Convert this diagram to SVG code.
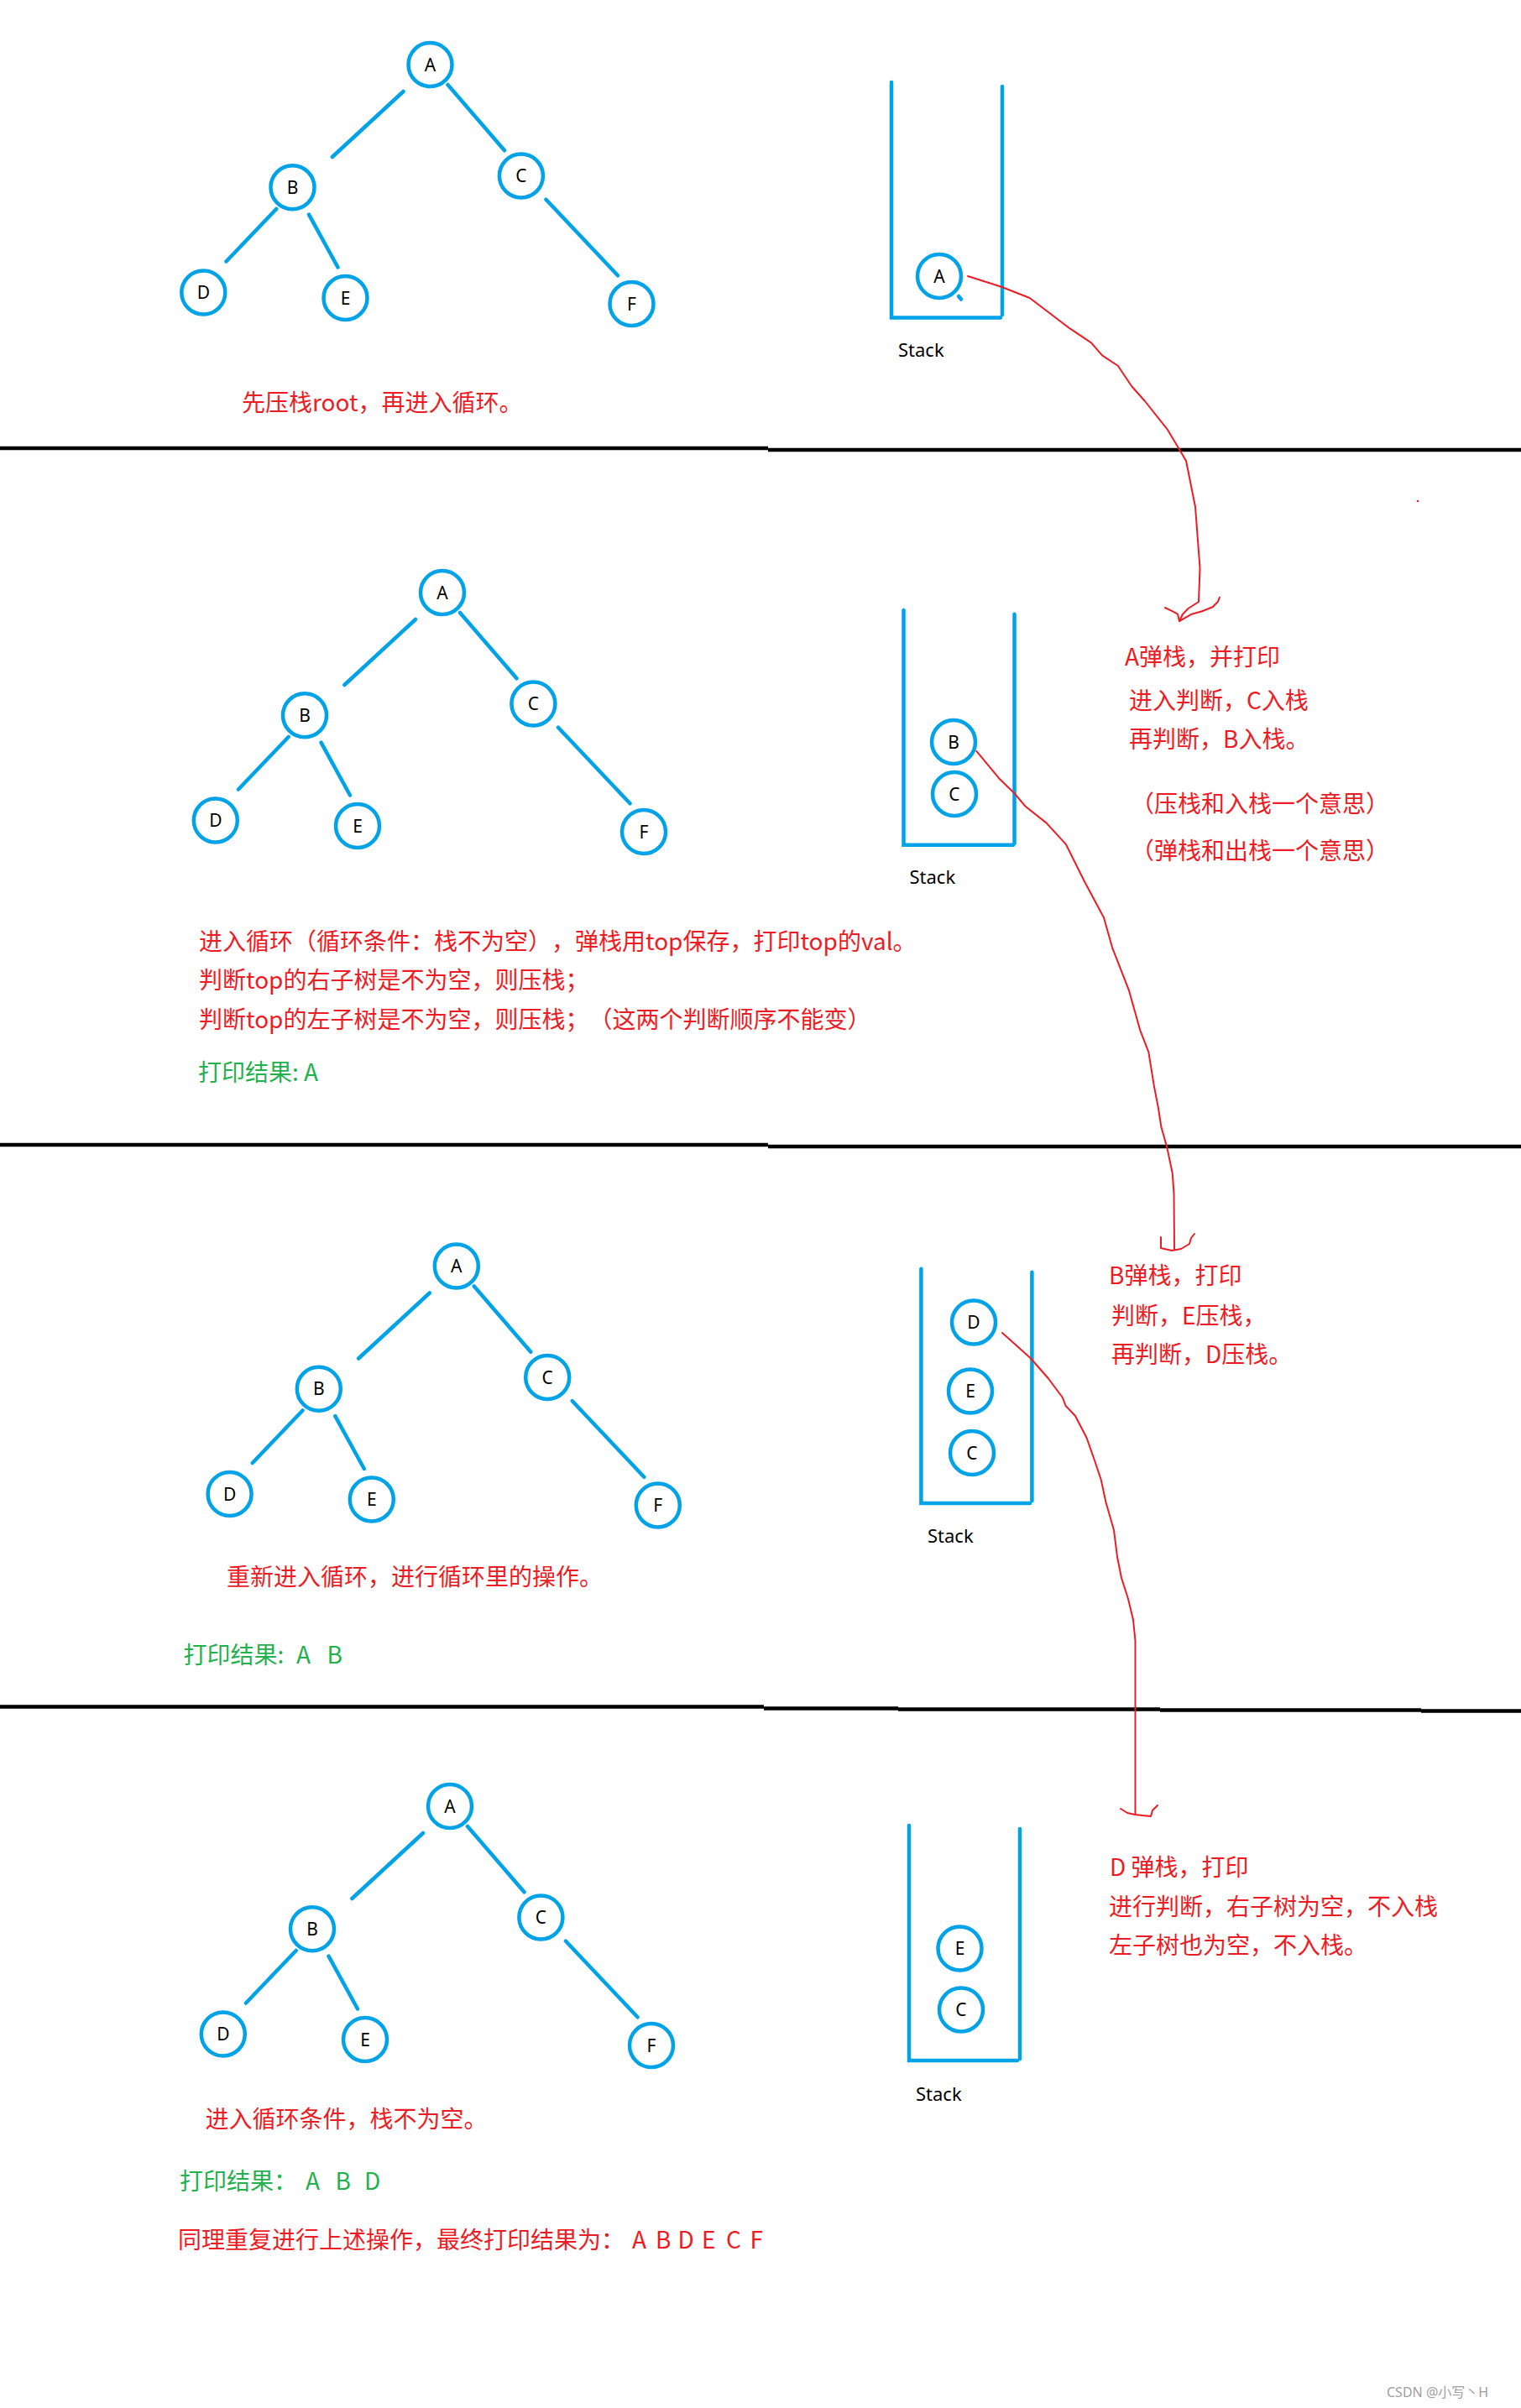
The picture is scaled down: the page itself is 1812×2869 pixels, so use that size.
<svg xmlns="http://www.w3.org/2000/svg" width="1812" height="2869" viewBox="0 0 1812 2869">
<style>
.bl{fill:none;stroke:#00A2E8;stroke-width:4.5;stroke-linecap:round}
.nc{fill:#fff;stroke:#00A2E8;stroke-width:4.5}
.nt{font-family:"Noto Sans","Noto Sans CJK SC",sans-serif;font-size:21px;fill:#000;text-anchor:middle}
.sl{font-family:"Noto Sans","Noto Sans CJK SC",sans-serif;font-size:22px;fill:#000}
.rt{font-family:"Noto Sans CJK SC",sans-serif;font-size:28px;fill:#ED1C24;text-spacing-trim:space-all}
.gt{font-family:"Noto Sans CJK SC",sans-serif;font-size:28px;fill:#22B14C;text-spacing-trim:space-all}
.rl{fill:none;stroke:#ED1C24;stroke-width:2;stroke-linejoin:round;stroke-linecap:round}
.sep{fill:none;stroke:#000;stroke-width:4.5}
</style>
<rect width="1812" height="2869" fill="#fff"/>

<g id="separators">
<path class="sep" d="M0,534 H915 M915,536 H1812"/>
<path class="sep" d="M0,1364 H915 M915,1366 H1812"/>
<path class="sep" d="M0,2033.5 H910 M910,2035.5 H1070 M1070,2036.5 H1382 M1382,2037.5 H1693 M1693,2038.5 H1812"/>
</g>

<!-- Panel 1 tree -->
<g id="tree1" transform="translate(512.5,77)">
<g id="tree1-edges">
<path class="bl" d="M-32,32 L-116.6,110 M21,24 L88.5,102.3 M-183.3,172 L-243,234.5 M-144.5,178.6 L-110,241.5 M138,160.7 L223.5,251.3"/>
</g>
<g id="t1-A"><circle class="nc" cx="0" cy="0" r="26"/><text class="nt" x="0" y="7.5">A</text></g>
<g id="t1-B"><circle class="nc" cx="-164" cy="146.3" r="26"/><text class="nt" x="-164" y="153.8">B</text></g>
<g id="t1-C"><circle class="nc" cx="108.4" cy="132.5" r="26"/><text class="nt" x="108.4" y="140">C</text></g>
<g id="t1-D"><circle class="nc" cx="-270.2" cy="271.5" r="26"/><text class="nt" x="-270.2" y="279">D</text></g>
<g id="t1-E"><circle class="nc" cx="-101" cy="278" r="26"/><text class="nt" x="-101" y="285.5">E</text></g>
<g id="t1-F"><circle class="nc" cx="240" cy="285" r="26"/><text class="nt" x="240" y="292.5">F</text></g>
</g>

<!-- Panel 2 tree -->
<g id="tree2" transform="translate(527,706)">
<g id="tree2-edges">
<path class="bl" d="M-32,32 L-116.6,110 M21,24 L88.5,102.3 M-183.3,172 L-243,234.5 M-144.5,178.6 L-110,241.5 M138,160.7 L223.5,251.3"/>
</g>
<g id="t2-A"><circle class="nc" cx="0" cy="0" r="26"/><text class="nt" x="0" y="7.5">A</text></g>
<g id="t2-B"><circle class="nc" cx="-164" cy="146.3" r="26"/><text class="nt" x="-164" y="153.8">B</text></g>
<g id="t2-C"><circle class="nc" cx="108.4" cy="132.5" r="26"/><text class="nt" x="108.4" y="140">C</text></g>
<g id="t2-D"><circle class="nc" cx="-270.2" cy="271.5" r="26"/><text class="nt" x="-270.2" y="279">D</text></g>
<g id="t2-E"><circle class="nc" cx="-101" cy="278" r="26"/><text class="nt" x="-101" y="285.5">E</text></g>
<g id="t2-F"><circle class="nc" cx="240" cy="285" r="26"/><text class="nt" x="240" y="292.5">F</text></g>
</g>

<!-- Panel 3 tree -->
<g id="tree3" transform="translate(543.8,1508.5)">
<g id="tree3-edges">
<path class="bl" d="M-32,32 L-116.6,110 M21,24 L88.5,102.3 M-183.3,172 L-243,234.5 M-144.5,178.6 L-110,241.5 M138,160.7 L223.5,251.3"/>
</g>
<g id="t3-A"><circle class="nc" cx="0" cy="0" r="26"/><text class="nt" x="0" y="7.5">A</text></g>
<g id="t3-B"><circle class="nc" cx="-164" cy="146.3" r="26"/><text class="nt" x="-164" y="153.8">B</text></g>
<g id="t3-C"><circle class="nc" cx="108.4" cy="132.5" r="26"/><text class="nt" x="108.4" y="140">C</text></g>
<g id="t3-D"><circle class="nc" cx="-270.2" cy="271.5" r="26"/><text class="nt" x="-270.2" y="279">D</text></g>
<g id="t3-E"><circle class="nc" cx="-101" cy="278" r="26"/><text class="nt" x="-101" y="285.5">E</text></g>
<g id="t3-F"><circle class="nc" cx="240" cy="285" r="26"/><text class="nt" x="240" y="292.5">F</text></g>
</g>

<!-- Panel 4 tree -->
<g id="tree4" transform="translate(536,2152)">
<g id="tree4-edges">
<path class="bl" d="M-32,32 L-116.6,110 M21,24 L88.5,102.3 M-183.3,172 L-243,234.5 M-144.5,178.6 L-110,241.5 M138,160.7 L223.5,251.3"/>
</g>
<g id="t4-A"><circle class="nc" cx="0" cy="0" r="26"/><text class="nt" x="0" y="7.5">A</text></g>
<g id="t4-B"><circle class="nc" cx="-164" cy="146.3" r="26"/><text class="nt" x="-164" y="153.8">B</text></g>
<g id="t4-C"><circle class="nc" cx="108.4" cy="132.5" r="26"/><text class="nt" x="108.4" y="140">C</text></g>
<g id="t4-D"><circle class="nc" cx="-270.2" cy="271.5" r="26"/><text class="nt" x="-270.2" y="279">D</text></g>
<g id="t4-E"><circle class="nc" cx="-101" cy="278" r="26"/><text class="nt" x="-101" y="285.5">E</text></g>
<g id="t4-F"><circle class="nc" cx="240" cy="285" r="26"/><text class="nt" x="240" y="292.5">F</text></g>
</g>

<!-- Stacks -->
<g id="stack1">
<path class="bl" d="M1062,98 V378.5 H1192 M1194,103 V375"/>
<g id="s1-A"><circle class="nc" cx="1119" cy="329" r="26"/><path class="bl" d="M1142,353 L1145,356.5"/><text class="nt" x="1119" y="336.5">A</text></g>
<text class="sl" x="1070" y="425">Stack</text>
</g>
<g id="stack2">
<path class="bl" d="M1076.5,727 V1006.7 H1207 M1208.5,731.7 V1005"/>
<g id="s2-B"><circle class="nc" cx="1136" cy="884" r="26"/><text class="nt" x="1136" y="891.5">B</text></g>
<g id="s2-C"><circle class="nc" cx="1137" cy="946" r="26"/><text class="nt" x="1137" y="953.5">C</text></g>
<text class="sl" x="1083.5" y="1053">Stack</text>
</g>
<g id="stack3">
<path class="bl" d="M1097.4,1511.7 V1791 H1227 M1229.4,1515.7 V1788.3"/>
<g id="s3-D"><circle class="nc" cx="1160" cy="1575.5" r="26"/><text class="nt" x="1160" y="1583">D</text></g>
<g id="s3-E"><circle class="nc" cx="1156" cy="1657.5" r="26"/><text class="nt" x="1156" y="1665">E</text></g>
<g id="s3-C"><circle class="nc" cx="1158" cy="1731" r="26"/><text class="nt" x="1158" y="1738.5">C</text></g>
<text class="sl" x="1105" y="1838">Stack</text>
</g>
<g id="stack4">
<path class="bl" d="M1083,2175 V2455 H1212 M1215,2179 V2453"/>
<g id="s4-E"><circle class="nc" cx="1143.5" cy="2321.5" r="26"/><text class="nt" x="1143.5" y="2329">E</text></g>
<g id="s4-C"><circle class="nc" cx="1145" cy="2394.5" r="26"/><text class="nt" x="1145" y="2402">C</text></g>
<text class="sl" x="1091" y="2503">Stack</text>
</g>

<!-- Red connectors -->
<g id="connectors">
<path class="rl" d="M1153,329 L1193,341.7 L1226.7,355 L1275,391.7 L1300,408.3 L1313,423.3 L1332,436 L1348,460 L1364,478 L1391,512 L1413,549 L1424,604 L1429.5,677 L1428,717 L1415.5,725 L1409,731.7 L1405,740"/>
<path class="rl" d="M1388,724 L1397,728.3 L1403,731.7 L1405,740 L1411,736.7 L1419.7,731.7 L1432,728.3 L1444.6,723.3 L1451,716.7 L1453,711.7"/>
<path class="rl" d="M1163.3,894.8 L1190,927.2 L1208.3,945 L1221.7,960.8 L1246.7,980.6 L1270,1006.2 L1291.7,1049.7 L1315,1093.2 L1325,1128.8 L1345,1180.2 L1358.3,1227.6 L1368.3,1253.3 L1375,1294.8 L1380,1320.5 L1383.3,1342.2 L1390,1365.9 L1396.7,1397.5 L1398.5,1421.3 L1399,1489"/>
<path class="rl" d="M1383,1474 L1383,1487 L1396,1490 L1407,1488 L1417,1482 L1419,1475 L1423,1470"/>
<path class="rl" d="M1194,1588 L1227.5,1618 L1248.6,1642 L1265.8,1665 L1269.6,1675 L1281,1687 L1294.5,1713 L1304,1740 L1311.7,1763 L1317.5,1790 L1327,1823 L1331,1855 L1336,1880 L1344,1905 L1350,1930 L1352.5,1955 L1352.5,2161"/>
<path class="rl" d="M1335,2155 L1343,2160 L1352,2162 L1361,2163 L1371,2164 L1373,2157 L1379,2151"/>
<circle cx="1689" cy="597" r="1.3" fill="#ED1C24"/>
</g>

<!-- Texts -->
<g id="texts">
<text class="rt" x="288" y="490">先压栈root，再进入循环。</text>

<text class="rt" x="1340" y="793">A弹栈，并打印</text>
<text class="rt" x="1345" y="845">进入判断，C入栈</text>
<text class="rt" x="1345" y="891">再判断，B入栈。</text>
<text class="rt" x="1347" y="968">（压栈和入栈一个意思）</text>
<text class="rt" x="1347" y="1024">（弹栈和出栈一个意思）</text>

<text class="rt" x="237" y="1132">进入循环（循环条件：栈不为空），弹栈用top保存，打印top的val。</text>
<text class="rt" x="237" y="1178">判断top的右子树是不为空，则压栈；</text>
<text class="rt" x="237" y="1224.5">判断top的左子树是不为空，则压栈；（这两个判断顺序不能变）</text>
<text class="gt" x="236" y="1288">打印结果: A</text>

<text class="rt" x="1321" y="1530">B弹栈，打印</text>
<text class="rt" x="1324" y="1578">判断，E压栈，</text>
<text class="rt" x="1324" y="1624">再判断，D压栈。</text>

<text class="rt" x="270" y="1889">重新进入循环，进行循环里的操作。</text>
<text class="gt" x="218.5" y="1982">打印结果:<tspan x="353">A</tspan><tspan x="389.5">B</tspan></text>

<text class="rt" x="1322" y="2235">D 弹栈，打印</text>
<text class="rt" x="1321" y="2282">进行判断，右子树为空，不入栈</text>
<text class="rt" x="1321" y="2328">左子树也为空，不入栈。</text>

<text class="rt" x="244.5" y="2535">进入循环条件，栈不为空。</text>
<text class="gt" x="214" y="2609">打印结果：<tspan x="364">A</tspan><tspan x="399.5">B</tspan><tspan x="434">D</tspan></text>
<text class="rt" x="212" y="2679">同理重复进行上述操作，最终打印结果为：<tspan x="753">A</tspan><tspan x="781">B</tspan><tspan x="807.5">D</tspan><tspan x="836">E</tspan><tspan x="865">C</tspan><tspan x="893.5">F</tspan></text>

<text x="1652" y="2856" font-family="'Noto Sans','Noto Sans CJK SC',sans-serif" font-size="16" fill="#a0a0a0">CSDN @小写丶H</text>
</g>
</svg>
